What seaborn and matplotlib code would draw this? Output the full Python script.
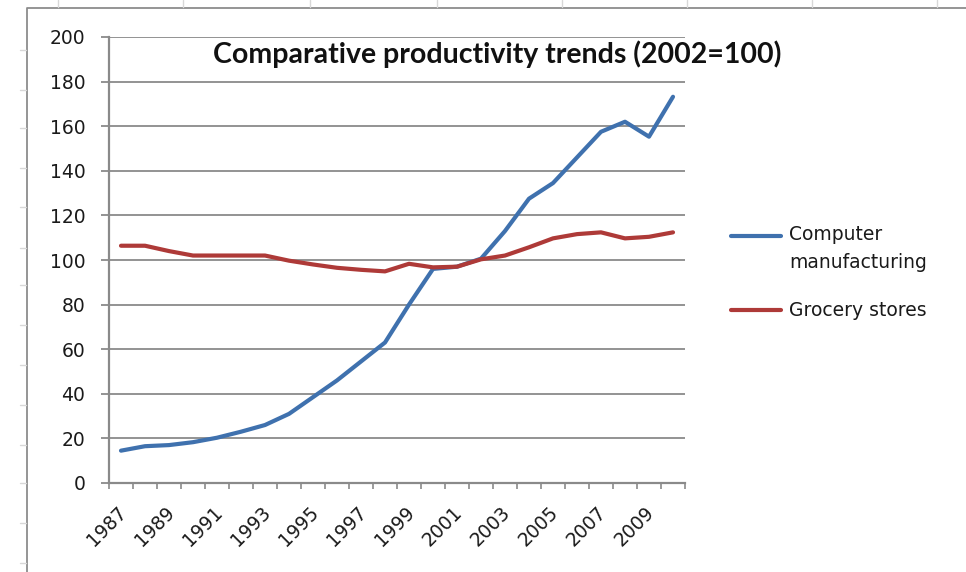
import matplotlib
matplotlib.use("Agg")
import matplotlib.pyplot as plt
from matplotlib.lines import Line2D
from matplotlib.transforms import ScaledTranslation
import seaborn as sns
import pandas as pd
import numpy as np

# ---- data ----
years = list(range(1987, 2011))
computer_mfg = [14.5, 16.5, 17, 18.3, 20.3, 23, 26, 31, 38.5, 46, 54.5, 63,
                80, 96, 97, 100.6, 113, 127.5, 134.5, 146, 157.5, 162, 155.3, 173.2]
grocery = [106.4, 106.4, 104, 102, 102, 102, 102, 99.7, 98, 96.5, 95.6, 94.9,
           98.3, 96.7, 97, 100.3, 102, 105.7, 109.7, 111.6, 112.4, 109.7, 110.4, 112.4]
series_names = ["Computer manufacturing", "Grocery stores"]
title = "Comparative productivity trends (2002=100)"
ytick_values = list(range(0, 201, 20))
xtick_label_years = list(range(1987, 2010, 2))

colors = ["#3F71AE", "#AE3A38"]

df = pd.DataFrame({
    "year": years * 2,
    "value": computer_mfg + grocery,
    "series": [series_names[0]] * len(years) + [series_names[1]] * len(years),
})

sns.set_theme(style="white")
plt.rcParams["font.family"] = ["DejaVu Sans"]

W, H = 966, 572
fig = plt.figure(figsize=(W / 100, H / 100), dpi=100)
fig.patch.set_facecolor("white")

def fx(px):
    return px / W

def fy(py):
    return 1 - py / H

ax = fig.add_axes([fx(109), fy(483), fx(685) - fx(109), fy(37) - fy(483)])

sns.lineplot(data=df, x="year", y="value", hue="series", palette=colors,
             linewidth=3.0, ax=ax, legend=False, sort=False)

grid_c = "#8A8A8A"
txt_c = "#1a1a1a"
tick_fs = 13.5
ax.set_xlim(years[0] - 0.5, years[-1] + 0.5)
ax.set_ylim(0, 200)
ax.set_yticks(ytick_values)
ax.set_yticklabels([str(v) for v in ytick_values], fontsize=tick_fs, color=txt_c)
ax.yaxis.grid(True, color=grid_c, linewidth=1.3)
ax.xaxis.grid(False)
ax.set_axisbelow(True)

# category boundary ticks (major) and label positions (minor)
ax.set_xticks(np.arange(years[0] - 0.5, years[-1] + 1.0, 1.0))
ax.set_xticklabels([])
ax.set_xticks(xtick_label_years, minor=True)
ax.set_xticklabels([str(y) for y in xtick_label_years], minor=True,
                   rotation=45, ha="right", rotation_mode="anchor",
                   fontsize=tick_fs, color=txt_c)
ax.tick_params(axis="x", which="major", direction="out", length=4, width=1.2,
               color=grid_c, bottom=True)
ax.tick_params(axis="x", which="minor", length=0, pad=14, bottom=True)
ax.tick_params(axis="y", which="major", direction="out", length=6, width=1.3,
               color=grid_c, pad=11, left=True)
shift = ScaledTranslation(-4 / 100, 0, fig.dpi_scale_trans)
for lab in ax.get_xticklabels(minor=True):
    lab.set_transform(lab.get_transform() + shift)

ax.set_xlabel("")
ax.set_ylabel("")
for s in ["top", "right"]:
    ax.spines[s].set_visible(False)
for s in ["left", "bottom"]:
    ax.spines[s].set_color(grid_c)
    ax.spines[s].set_linewidth(1.6)

# title
fig.text(fx(497), fy(54), title, ha="center", va="center",
         fontsize=20.5, fontweight="bold", color="#111111",
         family=["Lato", "DejaVu Sans"])

# legend (manual placement)
leg_fs = 13.5
leg_y = [236, 310]
for c, yy in zip(colors, leg_y):
    fig.add_artist(Line2D([fx(731), fx(781)], [fy(yy), fy(yy)], color=c,
                          linewidth=3.0, solid_capstyle="round"))
fig.text(fx(789), fy(235), "Computer", ha="left", va="center", fontsize=leg_fs, color=txt_c)
fig.text(fx(789), fy(263), "manufacturing", ha="left", va="center", fontsize=leg_fs, color=txt_c)
fig.text(fx(789), fy(310), "Grocery stores", ha="left", va="center", fontsize=leg_fs, color=txt_c)

# chart area border (top and left visible)
fig.add_artist(Line2D([fx(27), fx(27), fx(970)], [fy(580), fy(8), fy(8)],
                      color="#8C8C8C", linewidth=1.3))

# faint spreadsheet cell marks outside the chart
for xx in [58, 183, 310, 437, 562, 687, 812, 937]:
    fig.add_artist(Line2D([fx(xx), fx(xx)], [fy(0), fy(7)], color="#D8D8D8", linewidth=1))
for yy in [50, 90, 128, 168, 207, 248, 285, 325, 365, 405, 445, 483, 523, 563]:
    fig.add_artist(Line2D([fx(20), fx(26)], [fy(yy), fy(yy)], color="#D8D8D8", linewidth=1))

fig.savefig("out.png", dpi=100, facecolor="white")
